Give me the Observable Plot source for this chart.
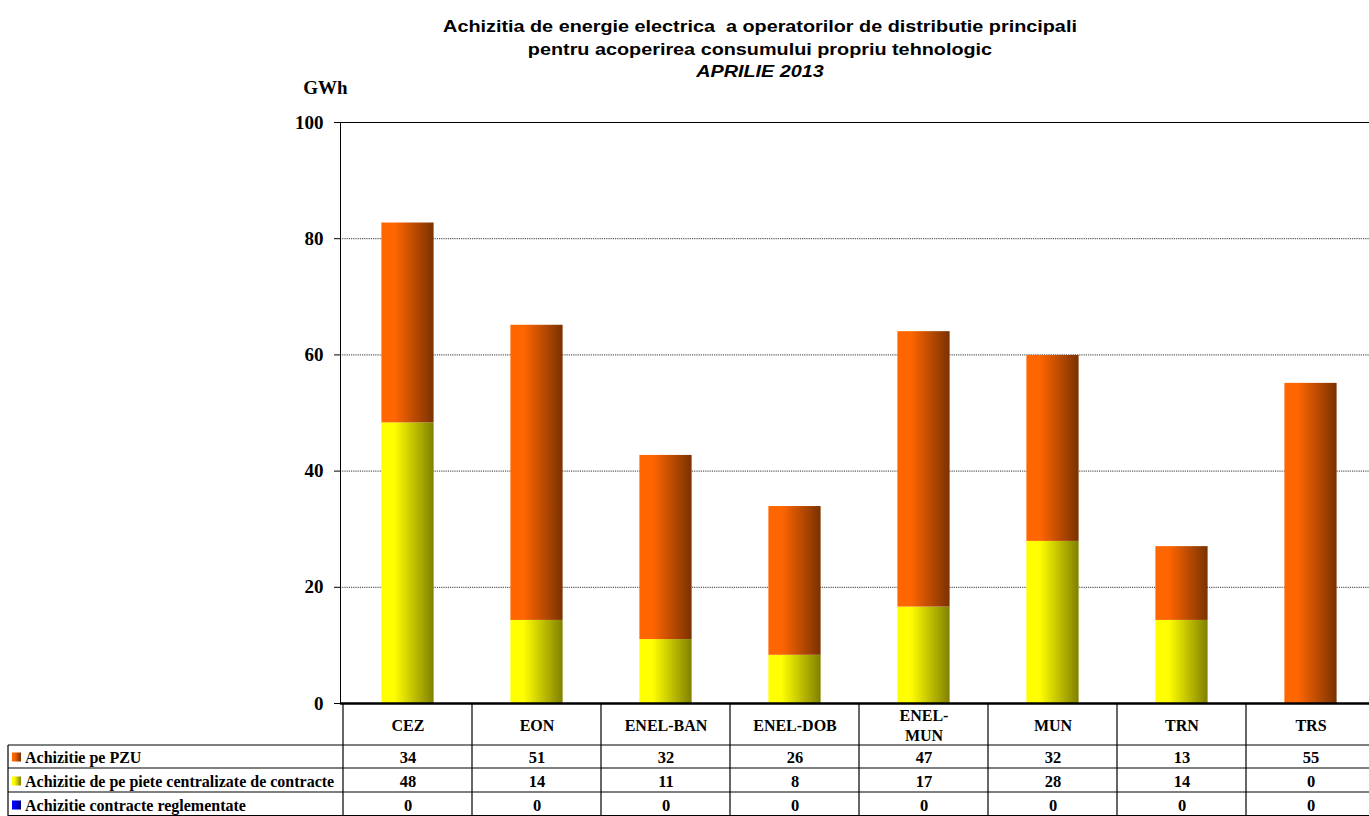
<!DOCTYPE html>
<html><head><meta charset="utf-8">
<script src="https://cdn.jsdelivr.net/npm/d3@7"></script>
<script src="https://cdn.jsdelivr.net/npm/@observablehq/plot@0.6"></script>
<style>
body{margin:0;background:#fff;overflow:hidden;width:1369px;height:816px;position:relative}
#title{position:absolute;left:760px;top:15px;transform:translateX(-50%) scaleX(1.2);white-space:nowrap;text-align:center;font:bold 16.5px "Liberation Sans",Arial,sans-serif;line-height:22.5px;z-index:2}
#chart{position:absolute;left:0;top:0;z-index:1}
</style></head><body>
<div id="title">Achizitia de energie electrica&nbsp; a operatorilor de distributie principali<br>pentru acoperirea consumului propriu tehnologic<br><i>APRILIE 2013</i></div>
<div id="chart"></div>
<script>
const categories = ["CEZ","EON","ENEL-BAN","ENEL-DOB","ENEL-MUN","MUN","TRN","TRS"];
const categoryLabels = ["CEZ","EON","ENEL-BAN","ENEL-DOB","ENEL-\nMUN","MUN","TRN","TRS"];
const pzu = [34.4, 50.8, 31.7, 25.6, 47.4, 32.0, 12.7, 55.1];
const centralizate = [48.3, 14.3, 11.0, 8.3, 16.6, 27.9, 14.3, 0];
const reglementate = [0, 0, 0, 0, 0, 0, 0, 0];
const seriesNames = ["Achizitie contracte reglementate", "Achizitie de pe piete centralizate de contracte", "Achizitie pe PZU"];
const yTicks = [0, 20, 40, 60, 80, 100];
const gridTicks = [20, 40, 60, 80];
const unitLabel = "GWh";

const seriesValues = [reglementate, centralizate, pzu];
const gradIds = ["gBlue", "gYellow", "gOrange"];
const rows = [];
seriesNames.forEach((s, k) => categories.forEach((c, i) => rows.push({cat: c, series: s, value: seriesValues[k][i]})));

// table display order: PZU, centralizate, reglementate
const tableOrder = [2, 1, 0];
const tableDy = [54, 78, 102];
const serif = "'Liberation Serif','Times New Roman',serif";

const plot = Plot.plot({
  width: 1378, height: 816,
  marginLeft: 340, marginRight: 0, marginTop: 122, marginBottom: 113,
  x: {domain: categories, padding: 0, axis: null},
  y: {domain: [0, 100], axis: null},
  color: {domain: seriesNames, range: gradIds.map(g => `url(#${g})`)},
  style: {fontFamily: serif, maxWidth: "none", color: "#000", background: "#fff"},
  marks: [
    Plot.gridY(gridTicks, {stroke: "#000", strokeOpacity: 1, strokeWidth: 0.8, strokeDasharray: "1.2,1"}),
    Plot.barY(rows, {x: "cat", y: "value", fill: "series", order: seriesNames, insetLeft: 38.4, insetRight: 38.4}),
    Plot.ruleY([100], {stroke: "#000", strokeWidth: 1}),
    Plot.frame({anchor: "left", stroke: "#000"}),
    Plot.ruleY([0], {stroke: "#000", strokeWidth: 2.5}),
    Plot.axisY(yTicks, {tickSize: 6, tickPadding: 11, fontSize: 19, fontWeight: "bold", label: null, stroke: "#000"}),
    Plot.text([unitLabel], {frameAnchor: "top-left", dx: -15, dy: -35, textAnchor: "middle", lineAnchor: "middle", fontSize: 19, fontWeight: "bold"}),
    Plot.text(categories, {x: d => d, text: (d, i) => categoryLabels[i], frameAnchor: "bottom", dy: 21, lineAnchor: "middle", fontSize: 16, fontWeight: "bold", lineHeight: 1.25}),
    ...tableOrder.map((k, r) => Plot.text(categories, {x: d => d, text: (d, i) => d3.format(".0f")(seriesValues[k][i]), frameAnchor: "bottom", dy: tableDy[r], lineAnchor: "middle", fontSize: 16.5, fontWeight: "bold"}))
  ]
});

const svg = d3.select(plot);
const defs = svg.insert("defs", ":first-child");
const gradColors = {gBlue: ["#0000ff", "#000080"], gYellow: ["#ffff00", "#808000"], gOrange: ["#ff6600", "#7a3100"]};
for (const id of gradIds) {
  const g = defs.append("linearGradient").attr("id", id).attr("x1", 0).attr("x2", 1).attr("y1", 0).attr("y2", 0);
  g.append("stop").attr("offset", "0%").attr("stop-color", gradColors[id][0]);
  g.append("stop").attr("offset", "25%").attr("stop-color", gradColors[id][0]);
  g.append("stop").attr("offset", "100%").attr("stop-color", gradColors[id][1]);
}

// data table grid
const xs = plot.scale("x");
const bw = xs.bandwidth;
const xEnd = xs.apply(categories[categories.length - 1]) + bw;
const yAxis = 703, rowTops = [745, 768, 792], yBottom = 816, legendLeft = 8;
const tg = svg.append("g").attr("stroke", "#000").attr("stroke-width", 1.2);
categories.forEach(c => {
  const xx = xs.apply(c);
  tg.append("line").attr("x1", xx).attr("x2", xx).attr("y1", yAxis).attr("y2", yBottom);
});
tg.append("line").attr("x1", xEnd).attr("x2", xEnd).attr("y1", yAxis).attr("y2", yBottom);
tg.append("line").attr("x1", legendLeft).attr("x2", legendLeft).attr("y1", rowTops[0]).attr("y2", yBottom);
rowTops.forEach(y => tg.append("line").attr("x1", legendLeft).attr("x2", xEnd).attr("y1", y).attr("y2", y));
tg.append("line").attr("x1", legendLeft).attr("x2", xEnd).attr("y1", yBottom - 0.5).attr("y2", yBottom - 0.5);

// legend column
tableOrder.forEach((k, r) => {
  const cy = yAxis + tableDy[r];
  svg.append("rect").attr("x", 12).attr("y", cy - 4.5).attr("width", 9).attr("height", 9).attr("fill", `url(#${gradIds[k]})`);
  svg.append("text").attr("x", 25).attr("y", cy).attr("dominant-baseline", "central").attr("text-anchor", "start")
    .attr("font-family", serif).attr("font-size", 16).attr("font-weight", "bold").text(seriesNames[k]);
});

document.getElementById("chart").append(plot);
</script>
</body></html>
